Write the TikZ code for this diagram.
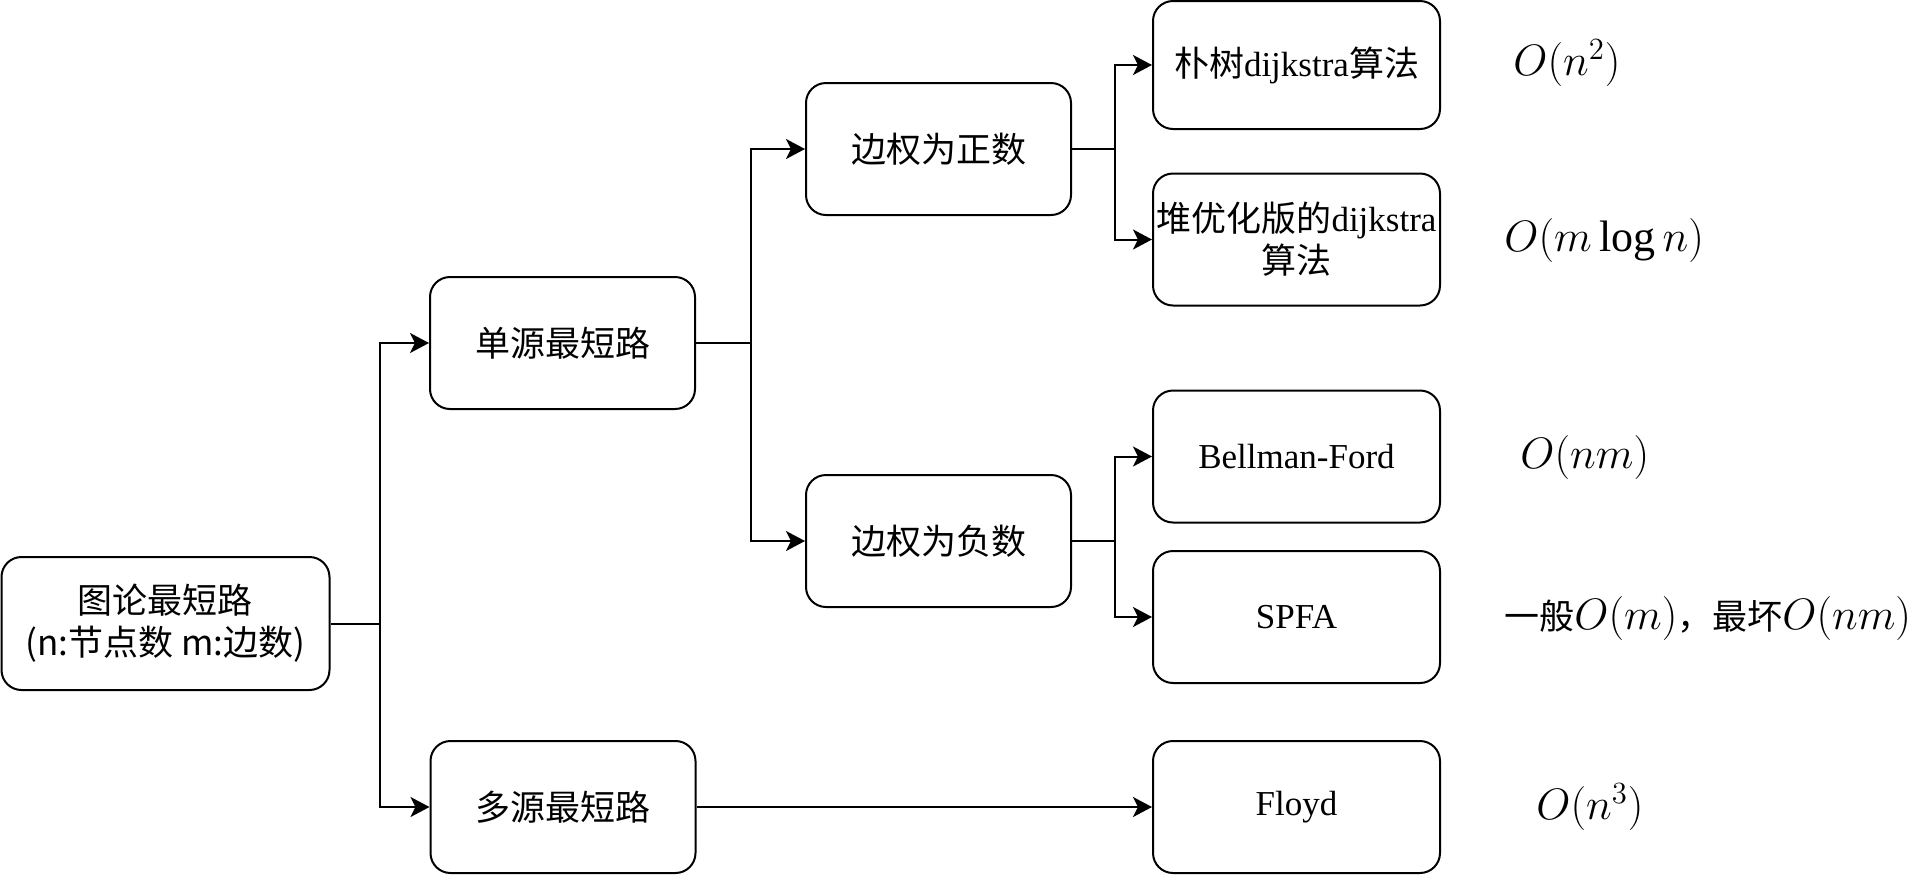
\RequirePackage{fix-cm}
\documentclass[tikz,border=0pt]{standalone}
\usepackage{fontspec}
\setmainfont{Liberation Serif}
\newfontfamily\cjk{Noto Sans CJK SC}
\usetikzlibrary{arrows.meta}
\begin{document}
\begin{tikzpicture}[x=0.5pt,y=-0.5pt,
  box/.style={draw, line width=1pt, rounded corners=10pt, align=center, inner sep=0pt,
    minimum height=66pt, font=\fontsize{17.5}{21}\selectfont},
  midbox/.style={box, minimum width=132.5pt},
  leafbox/.style={box, minimum width=143.5pt},
  conn/.style={line width=1pt},
  arr/.style={line width=1pt, -{Stealth[length=9.5pt,width=10pt,inset=2.5pt]}},
  cplx/.style={anchor=west, inner sep=0pt, font=\fontsize{22}{26}\selectfont}]
\useasboundingbox (0,0) rectangle (1913,874);

\node[box, minimum width=164pt, minimum height=66.5pt] (root) at (165.5,623.5)
  {{\cjk 图论最短路}\\{\cjk (n:节点数 m:边数)}};
\node[midbox] (ss) at (562.5,343) {\cjk 单源最短路};
\node[midbox] (ms) at (563,807) {\cjk 多源最短路};
\node[midbox] (pos) at (938.5,149) {\cjk 边权为正数};
\node[midbox] (neg) at (938.5,541) {\cjk 边权为负数};

\node[leafbox, minimum height=64pt] (p1) at (1296.5,65) {{\cjk 朴树}dijkstra{\cjk 算法}};
\node[leafbox] (p2) at (1296.5,239.5) {{\cjk 堆优化版的}dijkstra\\{\cjk 算法}};
\node[leafbox] (bf) at (1296.5,456.5) {Bellman-Ford};
\node[leafbox] (spfa) at (1296.5,617) {SPFA};
\node[leafbox] (floyd) at (1296.5,807) {Floyd};

\node[cplx] (c1) at (1513,63) {$O(n^2)$};
\node[cplx] (c2) at (1504,240) {$O(m\log n)$};
\node[cplx] (c3) at (1520,457) {$O(nm)$};
\node[cplx] (c4) at (1504,618) {{\cjk\fontsize{17.5}{21}\selectfont 一般}$O(m)${\cjk\fontsize{17.5}{21}\selectfont ，最坏}$O(nm)$};
\node[cplx] (c5) at (1536,807) {$O(n^3)$};

\coordinate (t1) at (380,0);
\coordinate (t2) at (751,0);
\coordinate (t3) at (1115,0);

\draw[conn] (root.east) -- (root.east -| t1) coordinate (j1);
\draw[arr] (j1) |- (ss.west);
\draw[arr] (j1) |- (ms.west);

\draw[conn] (ss.east) -- (ss.east -| t2) coordinate (j2);
\draw[arr] (j2) |- (pos.west);
\draw[arr] (j2) |- (neg.west);

\draw[conn] (pos.east) -- (pos.east -| t3) coordinate (j3);
\draw[arr] (j3) |- (p1.west);
\draw[arr] (j3) |- (p2.west);

\draw[conn] (neg.east) -- (neg.east -| t3) coordinate (j4);
\draw[arr] (j4) |- (bf.west);
\draw[arr] (j4) |- (spfa.west);

\draw[arr] (ms.east) -- (floyd.west);
\end{tikzpicture}
\end{document}
